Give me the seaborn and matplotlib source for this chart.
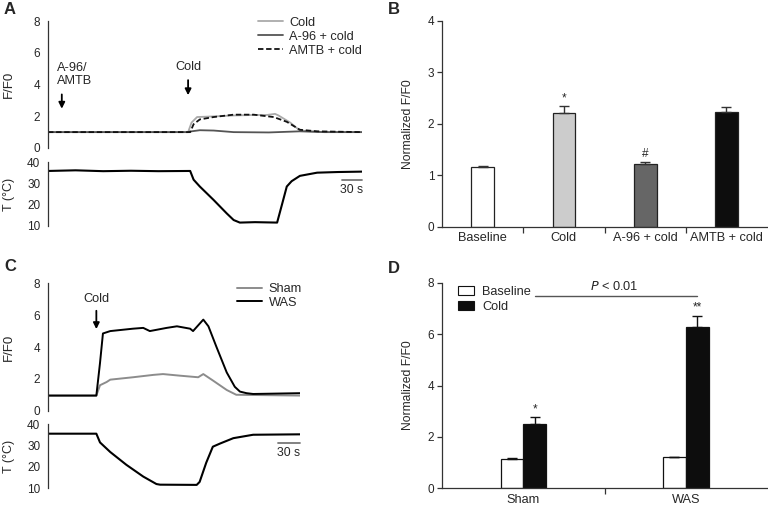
import numpy as np
import pandas as pd
import matplotlib
matplotlib.use("Agg")
import matplotlib.pyplot as plt
import seaborn as sns

sns.set_theme(style="white")
plt.rcParams['font.family'] = ['Liberation Sans', 'DejaVu Sans']
plt.rcParams['font.size'] = 9.2
FS = 9.2
TFS = 8.5

# ---------------- Panel A data (time in s) ----------------
a_cold_t = [0, 100, 203, 208, 216, 245, 269, 298, 317, 329, 334, 351, 365, 400, 455]
a_cold_f = [1.0, 1.0, 1.0, 1.6, 1.95, 2.0, 2.05, 2.08, 2.08, 2.15, 2.05, 1.6, 1.1, 1.0, 1.0]
a_a96_t = [0, 100, 203, 208, 220, 240, 269, 320, 365, 400, 455]
a_a96_f = [1.0, 1.0, 1.0, 1.05, 1.12, 1.1, 1.0, 0.98, 1.05, 1.0, 1.0]
a_amtb_t = [0, 100, 206, 211, 220, 240, 269, 298, 327, 346, 365, 390, 455]
a_amtb_f = [1.0, 1.0, 1.0, 1.5, 1.8, 1.95, 2.1, 2.1, 1.95, 1.65, 1.15, 1.05, 1.0]
a_temp_t = [0, 40, 80, 120, 160, 206, 211, 220, 240, 259, 269, 278, 300, 332, 339, 346, 353, 365, 390, 420, 457]
a_temp_v = [35.8, 36.1, 35.7, 35.9, 35.7, 35.8, 31.7, 28.5, 22.2, 15.9, 12.8, 11.6, 11.8, 11.6, 20.0, 28.5, 31.0, 33.5, 35.0, 35.3, 35.5]

# ---------------- Panel B data ----------------
b_cats = ["Baseline", "Cold", "A-96 + cold", "AMTB + cold"]
b_vals = [1.16, 2.20, 1.22, 2.22]
b_errs = [0.02, 0.14, 0.03, 0.10]
b_colors = ["#ffffff", "#cccccc", "#666666", "#0d0d0d"]
b_marks = ["", "*", "#", ""]

# ---------------- Panel C data ----------------
c_was_t = [0, 66, 71, 75, 85, 116, 130, 139, 162, 176, 194, 198, 212, 219, 230, 244, 255, 262, 271, 280, 344]
c_was_f = [0.95, 0.95, 3.0, 4.85, 5.0, 5.15, 5.2, 5.0, 5.2, 5.3, 5.15, 5.0, 5.72, 5.3, 4.0, 2.4, 1.5, 1.2, 1.1, 1.05, 1.1]
c_sham_t = [0, 66, 71, 80, 85, 116, 144, 157, 180, 205, 212, 225, 244, 257, 344]
c_sham_f = [0.95, 0.95, 1.6, 1.8, 1.95, 2.1, 2.25, 2.3, 2.2, 2.1, 2.3, 1.9, 1.3, 1.0, 0.95]
c_temp_t = [0, 66, 71, 85, 107, 130, 148, 153, 203, 207, 216, 225, 235, 253, 280, 344]
c_temp_v = [35.6, 35.6, 31.5, 27.0, 21.0, 15.5, 12.0, 11.7, 11.6, 13.0, 22.0, 29.5, 31.0, 33.5, 35.1, 35.3]

# ---------------- Panel D data ----------------
d_groups = ["Sham", "WAS"]
d_conds = ["Baseline", "Cold"]
d_base = [1.14, 1.21]
d_base_err = [0.02, 0.01]
d_cold = [2.50, 6.26]
d_cold_err = [0.26, 0.46]
d_marks = ["*", "**"]

W, H = 768, 507
fig = plt.figure(figsize=(W / 100, H / 100), dpi=100)


def px_axes(x0, y0, x1, y1):
    return fig.add_axes([x0 / W, 1 - y1 / H, (x1 - x0) / W, (y1 - y0) / H])


SPINE = "#333333"


def style_left(ax, ymin, ymax, ticks):
    for s in ["top", "right", "bottom"]:
        ax.spines[s].set_visible(False)
    ax.spines["left"].set_color(SPINE)
    ax.spines["left"].set_linewidth(0.9)
    ax.set_ylim(ymin, ymax)
    ax.set_yticks(ticks)
    ax.tick_params(axis="y", direction="out", length=3.5, width=0.9, color=SPINE, pad=2, labelsize=TFS)
    ax.set_xticks([])
    ax.set_facecolor("none")


def label_at(ax, text, x_right_px, x0_px, width_px, size):
    ax.set_ylabel(text, fontsize=size)
    ax.yaxis.set_label_coords((x_right_px - x0_px) / width_px, 0.5)


# ---------- Panel A ----------
axA = px_axes(48, 21, 362, 148)
df_a = pd.concat([
    pd.DataFrame({"t": a_cold_t, "f": a_cold_f, "cond": "Cold"}),
    pd.DataFrame({"t": a_a96_t, "f": a_a96_f, "cond": "A-96 + cold"}),
    pd.DataFrame({"t": a_amtb_t, "f": a_amtb_f, "cond": "AMTB + cold"}),
])
sns.lineplot(data=df_a, x="t", y="f", hue="cond", style="cond",
             palette={"Cold": "#aaaaaa", "A-96 + cold": "#555555", "AMTB + cold": "#111111"},
             dashes={"Cold": "", "A-96 + cold": "", "AMTB + cold": (3, 1.5)},
             linewidth=1.3, ax=axA, legend=True)
axA.set_xlim(0, 455)
style_left(axA, 0, 8, [0, 2, 4, 6, 8])
axA.set_xlabel("")
label_at(axA, "F/F0", 15, 48, 314, 9.5)
axA.legend(loc="upper right", bbox_to_anchor=(1.0, 1.035), frameon=False, borderaxespad=0, borderpad=0,
           handlelength=1.9, labelspacing=0.17, fontsize=FS, handletextpad=0.5)
axA.annotate("", xy=(20, 2.3), xytext=(20, 3.55),
             arrowprops=dict(arrowstyle="-|>", color="black", lw=1.3, mutation_scale=9))
axA.text(13, 3.85, "A-96/\nAMTB", ha="left", va="bottom", fontsize=FS, linespacing=1.1)
axA.annotate("", xy=(203, 3.15), xytext=(203, 4.45),
             arrowprops=dict(arrowstyle="-|>", color="black", lw=1.3, mutation_scale=9))
axA.text(203, 4.75, "Cold", ha="center", va="bottom", fontsize=FS)

axAT = px_axes(48, 162, 362, 226)
sns.lineplot(x=a_temp_t, y=a_temp_v, color="black", linewidth=1.5, ax=axAT)
axAT.set_xlim(0, 455)
style_left(axAT, 10, 40, [10, 20, 30, 40])
label_at(axAT, "T (°C)", 15, 48, 314, 9)
axAT.plot([426, 455], [31.4, 31.4], color="#777777", lw=1.3, clip_on=False)
axAT.text(440, 29.5, "30 s", ha="center", va="top", fontsize=8.8)

# ---------- Panel C ----------
axC = px_axes(48, 283.3, 300, 410.7)
df_c = pd.concat([
    pd.DataFrame({"t": c_sham_t, "f": c_sham_f, "cond": "Sham"}),
    pd.DataFrame({"t": c_was_t, "f": c_was_f, "cond": "WAS"}),
])
sns.lineplot(data=df_c, x="t", y="f", hue="cond",
             palette={"Sham": "#8c8c8c", "WAS": "#000000"}, linewidth=1.4, ax=axC)
axC.set_xlim(0, 344)
style_left(axC, 0, 8, [0, 2, 4, 6, 8])
axC.set_xlabel("")
label_at(axC, "F/F0", 15, 48, 252, 9.5)
axC.legend(loc="upper right", bbox_to_anchor=(1.008, 1.0), frameon=False, borderaxespad=0, borderpad=0,
           handlelength=1.9, labelspacing=0.12, fontsize=FS, handletextpad=0.55)
axC.annotate("", xy=(66, 4.95), xytext=(66, 6.45),
             arrowprops=dict(arrowstyle="-|>", color="black", lw=1.3, mutation_scale=9))
axC.text(66, 6.65, "Cold", ha="center", va="bottom", fontsize=FS)

axCT = px_axes(48, 424.3, 300, 488.3)
sns.lineplot(x=c_temp_t, y=c_temp_v, color="black", linewidth=1.5, ax=axCT)
axCT.set_xlim(0, 344)
style_left(axCT, 10, 40, [10, 20, 30, 40])
label_at(axCT, "T (°C)", 15, 48, 252, 9)
axCT.plot([314, 344], [31.1, 31.1], color="#777777", lw=1.3, clip_on=False)
axCT.text(329, 29.2, "30 s", ha="center", va="top", fontsize=8.8)


def style_bar(ax, ymax, yticks, ncat):
    for s in ["top", "right"]:
        ax.spines[s].set_visible(False)
    for s in ["left", "bottom"]:
        ax.spines[s].set_color(SPINE)
        ax.spines[s].set_linewidth(0.9)
    ax.set_ylim(0, ymax)
    ax.set_yticks(yticks)
    ax.set_xlim(-0.5, ncat - 0.5)
    ax.tick_params(axis="y", direction="out", length=3.5, width=0.9, color=SPINE, pad=2, labelsize=TFS, left=True)
    ax.tick_params(axis="x", which="major", length=0, pad=4, labelsize=FS)
    ax.set_xticks(np.arange(ncat - 1) + 0.5, minor=True)
    ax.tick_params(axis="x", which="minor", direction="out", length=4, width=0.9, color=SPINE, bottom=True)
    ax.set_xlabel("")


# ---------- Panel B ----------
axB = px_axes(442, 20.7, 767, 226.7)
df_b = pd.DataFrame({"cat": b_cats, "val": b_vals})
sns.barplot(data=df_b, x="cat", y="val", hue="cat", palette=dict(zip(b_cats, b_colors)),
            width=0.28, edgecolor="#222222", linewidth=0.9, legend=False, ax=axB)
style_bar(axB, 4, [0, 1, 2, 3, 4], len(b_cats))
label_at(axB, "Normalized F/F0", 414, 442, 325, 8.7)
for i, (v, e, m) in enumerate(zip(b_vals, b_errs, b_marks)):
    axB.errorbar(i, v, yerr=[[0], [e]], color="#333333", capsize=3.5, elinewidth=1, capthick=1)
    if m:
        axB.text(i, v + e + 0.04, m, ha="center", va="bottom", fontsize=8.5)

# ---------- Panel D ----------
axD = px_axes(442, 282.7, 767, 488.3)
df_d = pd.DataFrame({
    "group": d_groups * 2,
    "cond": [d_conds[0]] * 2 + [d_conds[1]] * 2,
    "val": d_base + d_cold,
})
sns.barplot(data=df_d, x="group", y="val", hue="cond",
            palette={"Baseline": "#ffffff", "Cold": "#0d0d0d"},
            width=0.28, edgecolor="#111111", linewidth=0.9, ax=axD)
style_bar(axD, 8, [0, 2, 4, 6, 8], len(d_groups))
label_at(axD, "Normalized F/F0", 414, 442, 325, 8.7)
for cont, vals, errs in zip(axD.containers, [d_base, d_cold], [d_base_err, d_cold_err]):
    for p, v, e in zip(cont.patches, vals, errs):
        xc = p.get_x() + p.get_width() / 2
        axD.errorbar(xc, v, yerr=[[0], [e]], color="#111111", capsize=3.5, elinewidth=1, capthick=1)
for p, v, e, m in zip(axD.containers[1].patches, d_cold, d_cold_err, d_marks):
    xc = p.get_x() + p.get_width() / 2
    axD.text(xc, v + e + 0.08, m, ha="center", va="bottom", fontsize=8.5)
axD.plot([0.07, 1.07], [7.48, 7.48], color="#555555", lw=1)
axD.text(0.56, 7.58, r"$\it{P}$ < 0.01", ha="center", va="bottom", fontsize=FS)
axD.legend(loc="upper left", bbox_to_anchor=(0.015, 1.04), frameon=False, handlelength=1.25,
           handleheight=0.75, labelspacing=0.2, fontsize=FS, handletextpad=0.6)
for h in axD.get_legend().legend_handles:
    h.set_edgecolor("#111111")
    h.set_linewidth(0.8)

# Panel letters
for lbl, x, y in [("A", 4, 2), ("B", 388, 2), ("C", 4, 259), ("D", 388, 261)]:
    fig.text(x / W, 1 - y / H, lbl, ha="left", va="top", fontsize=12, fontweight="bold")

fig.savefig("out.png", dpi=100)
